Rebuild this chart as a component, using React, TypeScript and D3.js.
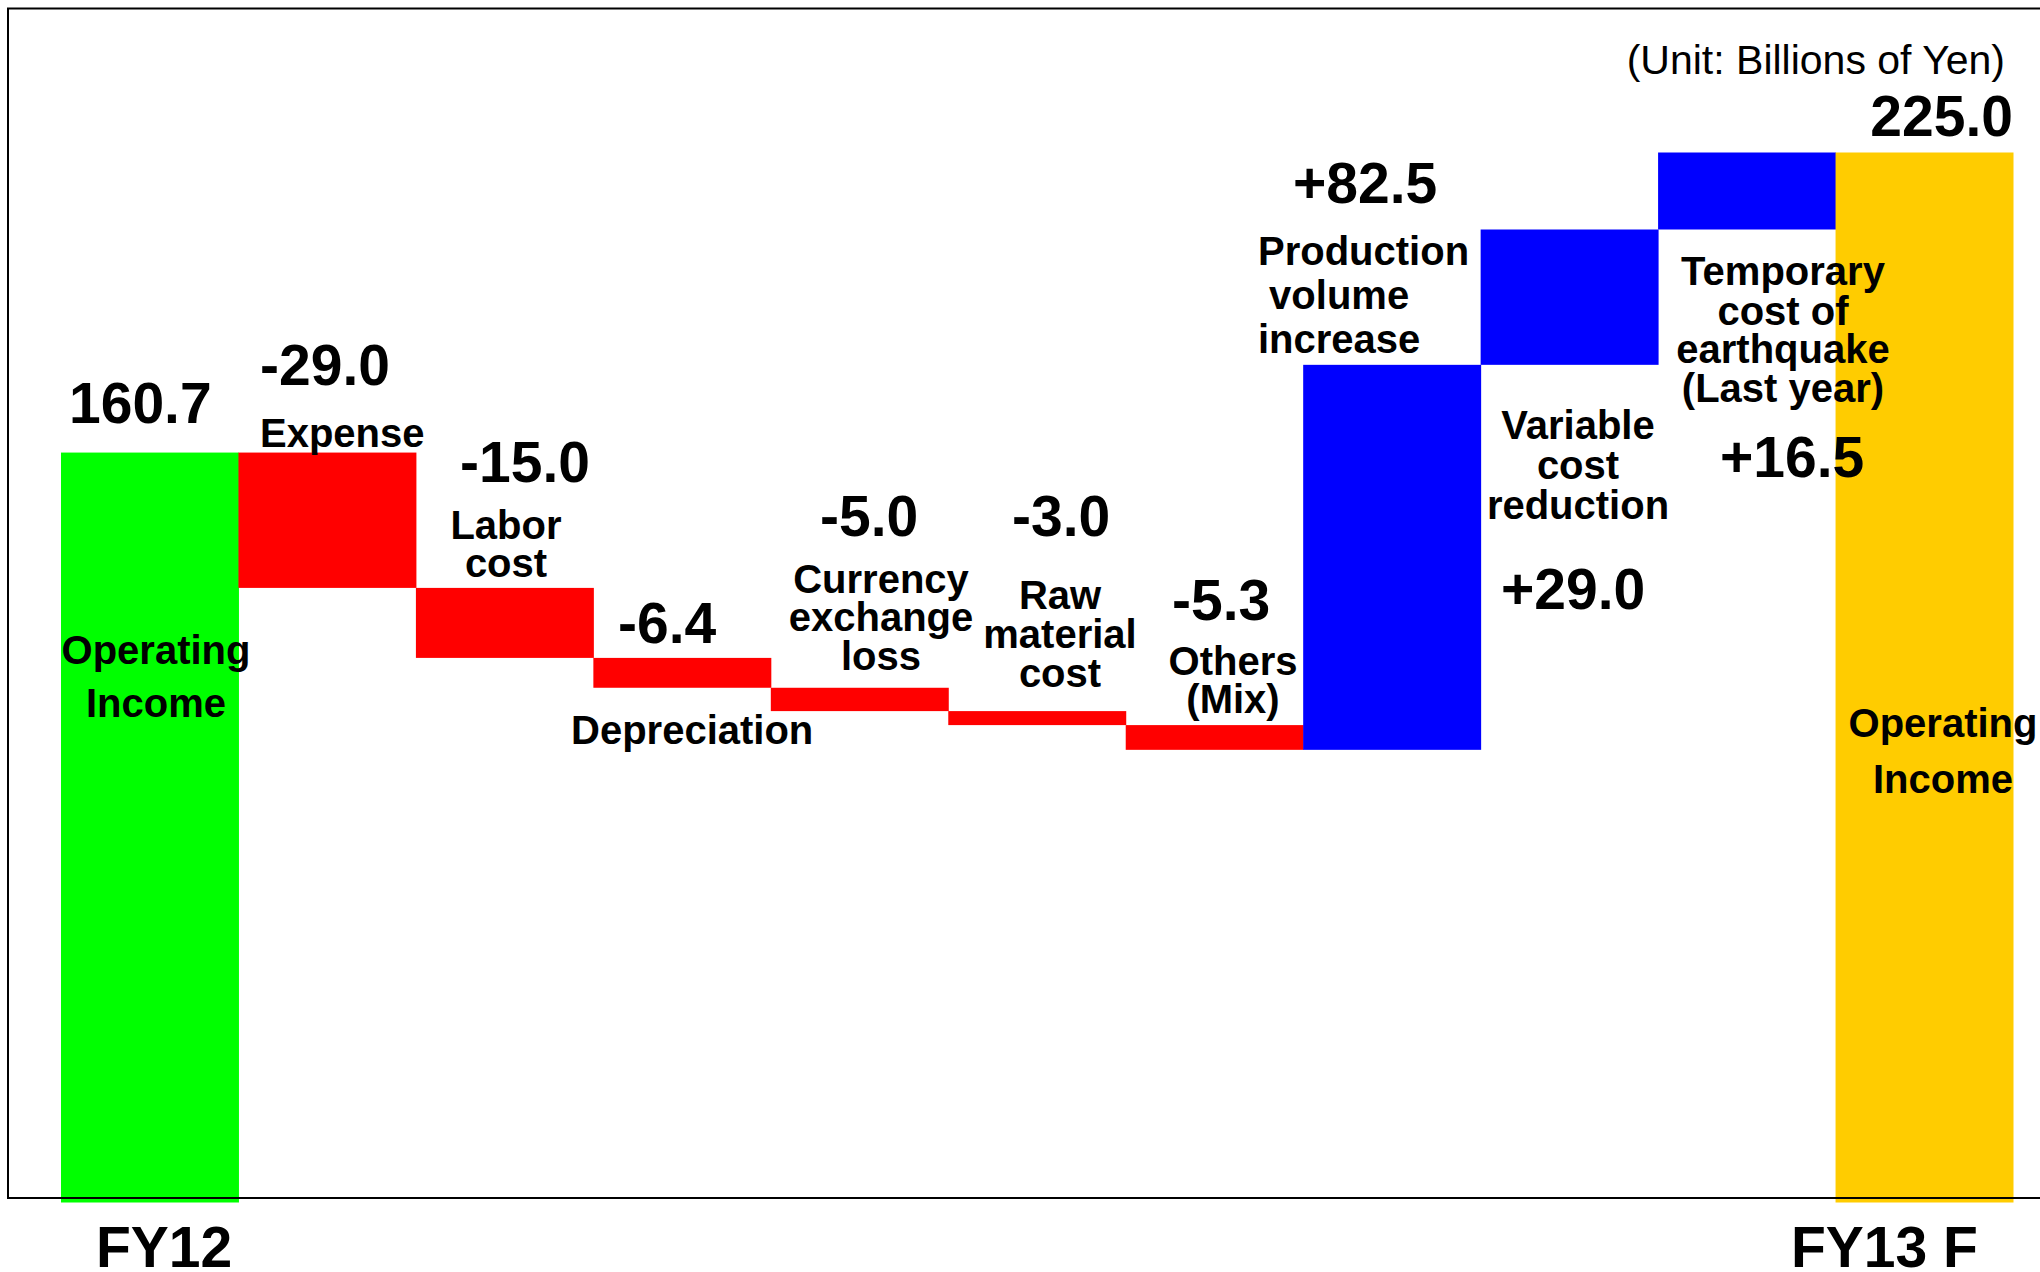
import React from "react";
import * as d3 from "d3";

const categories = [
  "FY12",
  "Expense",
  "Labor cost",
  "Depreciation",
  "Currency exchange loss",
  "Raw material cost",
  "Others (Mix)",
  "Production volume increase",
  "Variable cost reduction",
  "Temporary cost of earthquake (Last year)",
  "FY13 F",
];
const values = [160.7, -29.0, -15.0, -6.4, -5.0, -3.0, -5.3, 82.5, 29.0, 16.5, 225.0];
const kinds = ["total", "delta", "delta", "delta", "delta", "delta", "delta", "delta", "delta", "delta", "total"];
const valueLabels = ["160.7", "-29.0", "-15.0", "-6.4", "-5.0", "-3.0", "-5.3", "+82.5", "+29.0", "+16.5", "225.0"];
const categoryLines = [
  ["Operating", "Income"],
  ["Expense"],
  ["Labor", "cost"],
  ["Depreciation"],
  ["Currency", "exchange", "loss"],
  ["Raw", "material", "cost"],
  ["Others", "(Mix)"],
  ["Production", " volume", "increase"],
  ["Variable", "cost", "reduction"],
  ["Temporary", "cost of", "earthquake", "(Last year)"],
  ["Operating", "Income"],
];
const axisLabels = ["FY12", "FY13 F"];
const unitLabel = "(Unit: Billions of Yen)";

// layout (annotation placement)
const valuePos = [
  { x: 69, y: 423, a: "start" },
  { x: 260, y: 385, a: "start" },
  { x: 460, y: 482, a: "start" },
  { x: 618, y: 643, a: "start" },
  { x: 820, y: 536, a: "start" },
  { x: 1012, y: 536, a: "start" },
  { x: 1172, y: 620, a: "start" },
  { x: 1293, y: 203, a: "start" },
  { x: 1501, y: 609, a: "start" },
  { x: 1720, y: 477, a: "start" },
  { x: 2013, y: 136, a: "end" },
];
const catPos = [
  { x: 156, ys: [664, 717], a: "middle" },
  { x: 260, ys: [447], a: "start" },
  { x: 506, ys: [539, 577], a: "middle" },
  { x: 571, ys: [744], a: "start" },
  { x: 881, ys: [593, 631, 670], a: "middle" },
  { x: 1060, ys: [609, 648, 687], a: "middle" },
  { x: 1233, ys: [675, 713], a: "middle" },
  { x: 1258, ys: [265, 309, 353], a: "start" },
  { x: 1578, ys: [439, 479, 519], a: "middle" },
  { x: 1783, ys: [285, 325, 363, 402], a: "middle" },
  { x: 1943, ys: [737, 793], a: "middle" },
];

const FONT = "'Liberation Sans', Arial, Helvetica, sans-serif";

export default function App() {
  const W = 2040;
  const H = 1272;
  const x = d3.scaleBand<string>().domain(categories).range([61, 2013]).padding(0);
  const y = d3.scaleLinear().domain([0, 225]).range([1202.5, 152.5]);

  let running = 0;
  const bars = categories.map((c, i) => {
    const v = values[i];
    let y0: number, y1: number, color: string;
    if (kinds[i] === "total") {
      y0 = 0;
      y1 = v;
      running = v;
      color = i === 0 ? "#00ff00" : "#ffcc00";
    } else {
      y0 = running;
      y1 = running + v;
      running = y1;
      color = v < 0 ? "#ff0000" : "#0000ff";
    }
    const top = y(Math.max(y0, y1));
    const bot = y(Math.min(y0, y1));
    return { c, x: x(c)!, w: x.bandwidth(), top, h: bot - top, color };
  });

  return (
    <svg
      width={W}
      height={H}
      style={{ position: "absolute", left: 0, top: 0, background: "#fff" }}
      fontFamily={FONT}
    >
      <rect x={0} y={0} width={W} height={H} fill="#fff" />
      {bars.map((b, i) => (
        <rect key={i} x={b.x} y={b.top} width={b.w + 0.5} height={b.h} fill={b.color} />
      ))}
      {/* frame */}
      <path d={`M2045,8.5 H8 V1198 H2045`} fill="none" stroke="#000" strokeWidth={2} />
      {/* unit */}
      <text x={2005} y={74} fontSize={41} textAnchor="end" fill="#000">
        {unitLabel}
      </text>
      {/* value labels */}
      {valueLabels.map((t, i) => (
        <text
          key={"v" + i}
          x={valuePos[i].x}
          y={valuePos[i].y}
          fontSize={57}
          fontWeight="bold"
          textAnchor={valuePos[i].a as any}
          fill="#000"
        >
          {t}
        </text>
      ))}
      {/* category labels */}
      {categoryLines.map((lines, i) =>
        lines.map((ln, j) => (
          <text
            key={"c" + i + "-" + j}
            x={catPos[i].x}
            y={catPos[i].ys[j]}
            fontSize={40}
            fontWeight="bold"
            textAnchor={catPos[i].a as any}
            fill="#000"
            style={{ whiteSpace: "pre" }}
          >
            {ln}
          </text>
        ))
      )}
      {/* axis labels */}
      <text x={96} y={1267} fontSize={57} fontWeight="bold" fill="#000">
        {axisLabels[0]}
      </text>
      <text x={1791} y={1267} fontSize={57} fontWeight="bold" fill="#000">
        {axisLabels[1]}
      </text>
    </svg>
  );
}
